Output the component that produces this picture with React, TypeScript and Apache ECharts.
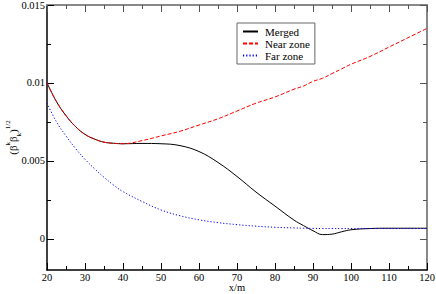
import React, { useEffect, useRef } from "react";
import * as echarts from "echarts";

const xs = [20, 22.5, 25, 27.5, 30, 32.5, 35, 37.5, 40, 45, 50, 55, 60, 65, 70, 75, 80, 85, 87.5, 90, 92.5, 95, 97.5, 100, 105, 110, 115, 120];

const merged = [0.0100, 0.0088, 0.0079, 0.0072, 0.0067, 0.0064, 0.0062, 0.00613, 0.0061, 0.00612, 0.0061, 0.00598, 0.0056, 0.0049, 0.0040, 0.0030, 0.0021, 0.0012, 0.00085, 0.00052, 0.00027, 0.0003, 0.00045, 0.00058, 0.00066, 0.00068, 0.00068, 0.00068];

const nearZone = [0.0100, 0.0088, 0.0079, 0.0072, 0.0067, 0.0064, 0.0062, 0.00613, 0.0061, 0.0063, 0.0066, 0.0069, 0.0073, 0.0077, 0.0082, 0.0087, 0.0091, 0.0096, 0.0098, 0.0101, 0.0103, 0.0106, 0.0109, 0.0112, 0.0117, 0.0123, 0.0129, 0.0135];

const farZone = [0.0087, 0.0075, 0.0066, 0.0058, 0.0051, 0.0045, 0.00395, 0.00345, 0.00303, 0.0024, 0.00185, 0.00148, 0.00122, 0.00104, 0.00091, 0.00081, 0.00074, 0.0007, 0.00068, 0.00067, 0.00066, 0.00066, 0.00066, 0.00066, 0.00066, 0.00066, 0.00066, 0.00066];

const seriesNames = ["Merged", "Near zone", "Far zone"];
const yMajorTicks = [0, 0.005, 0.01, 0.015];
const yMajorLabels = ["0", "0.005", "0.01", "0.015"];
const yMinorTicks = [0.0025, 0.0075, 0.0125];

const FONT = "Liberation Serif";

export default function App() {
  const ref = useRef<HTMLDivElement>(null);
  useEffect(() => {
    if (!ref.current) return;
    const chart = echarts.init(ref.current, null, { renderer: "svg" });
    const pairs = (ys: number[]) => xs.map((x, i) => [x, ys[i]]);
    const yBase = { type: "value", min: -0.002, max: 0.015, splitLine: { show: false } };
    const xBase = {
      type: "value",
      min: 20,
      max: 120,
      interval: 10,
      splitLine: { show: false },
      minorSplitLine: { show: false },
    };
    chart.setOption({
      animation: false,
      backgroundColor: "#ffffff",
      textStyle: { fontFamily: FONT },
      grid: { left: 47, right: 9, top: 5, bottom: 24, outerBoundsMode: "none", containLabel: false },
      legend: {
        data: seriesNames,
        orient: "vertical",
        left: 237,
        top: 23,
        itemWidth: 15,
        itemHeight: 10,
        itemGap: 1,
        padding: [3, 5, 3, 5],
        borderColor: "#666666",
        borderWidth: 1,
        backgroundColor: "#ffffff",
        itemStyle: { opacity: 0 },
        textStyle: { fontFamily: FONT, fontSize: 11, lineHeight: 11, color: "#000", padding: [0, 0, 0, 2] },
      },
      xAxis: [
        {
          ...xBase,
          position: "bottom",
          name: "x/m",
          nameLocation: "middle",
          nameGap: 12,
          nameMoveOverlap: false,
          nameTextStyle: { fontFamily: FONT, fontSize: 10.5, color: "#000" },
          axisLine: { show: true, onZero: false, lineStyle: { color: "#000", width: 1.5 } },
          axisTick: { show: true, inside: true, length: 7, lineStyle: { color: "#000" } },
          minorTick: { show: true, splitNumber: 2, length: 4, lineStyle: { color: "#000" } },
          axisLabel: { fontFamily: FONT, fontSize: 10.5, color: "#000", margin: 2 },
        },
        {
          ...xBase,
          position: "top",
          axisLine: { show: true, onZero: false, lineStyle: { color: "#888", width: 2 } },
          axisTick: { show: true, inside: true, length: 7, lineStyle: { color: "#555" } },
          minorTick: { show: true, splitNumber: 2, length: 4, lineStyle: { color: "#555" } },
          axisLabel: { show: false },
        },
      ],
      yAxis: [
        {
          ...yBase,
          position: "left",
          name: "{m|(β}{sup|k}{m|β}{sub|k}{m|)}{sup|1/2}",
          nameLocation: "middle",
          nameRotate: 90,
          nameGap: 25,
          nameMoveOverlap: false,
          nameTextStyle: {
            fontFamily: FONT,
            color: "#000",
            rich: {
              m: { fontFamily: FONT, fontSize: 11, lineHeight: 18, color: "#000" },
              sup: { fontFamily: FONT, fontSize: 7, lineHeight: 8, verticalAlign: "top", color: "#000" },
              sub: { fontFamily: FONT, fontSize: 7, lineHeight: 8, verticalAlign: "bottom", color: "#000" },
            },
          },
          axisLine: { show: true, onZero: false, lineStyle: { color: "#000", width: 1.5 } },
          axisTick: { show: true, inside: true, length: 7, customValues: yMajorTicks, lineStyle: { color: "#000" } },
          axisLabel: {
            fontFamily: FONT,
            fontSize: 10.5,
            color: "#000",
            margin: 2,
            customValues: yMajorTicks,
            formatter: (v: number) => {
              const i = yMajorTicks.findIndex((t) => Math.abs(t - v) < 1e-9);
              return i >= 0 ? yMajorLabels[i] : "";
            },
          },
        },
        {
          ...yBase,
          position: "left",
          axisLine: { show: false },
          axisTick: { show: true, inside: true, length: 4, customValues: yMinorTicks, lineStyle: { color: "#000" } },
          axisLabel: { show: false },
        },
        {
          ...yBase,
          position: "right",
          axisLine: { show: true, onZero: false, lineStyle: { color: "#888", width: 2 } },
          axisTick: { show: true, inside: true, length: 7, customValues: yMajorTicks, lineStyle: { color: "#555" } },
          axisLabel: { show: false },
        },
        {
          ...yBase,
          position: "right",
          axisLine: { show: false },
          axisTick: { show: true, inside: true, length: 4, customValues: yMinorTicks, lineStyle: { color: "#555" } },
          axisLabel: { show: false },
        },
      ],
      series: [
        {
          name: seriesNames[0],
          type: "line",
          data: pairs(merged),
          smooth: 0.4,
          showSymbol: false,
          symbol: "none",
          lineStyle: { color: "#000000", width: 1 },
          itemStyle: { color: "#000000" },
          z: 3,
        },
        {
          name: seriesNames[1],
          type: "line",
          data: pairs(nearZone),
          smooth: 0.4,
          showSymbol: false,
          symbol: "none",
          lineStyle: { color: "#ff0000", width: 1, type: [4, 2] },
          itemStyle: { color: "#ff0000" },
          z: 4,
        },
        {
          name: seriesNames[2],
          type: "line",
          data: pairs(farZone),
          smooth: 0.4,
          showSymbol: false,
          symbol: "none",
          lineStyle: { color: "#0000ff", width: 1, type: [1.2, 2] },
          itemStyle: { color: "#0000ff" },
          z: 5,
        },
      ],
    });
    return () => chart.dispose();
  }, []);
  return (
    <div
      ref={ref}
      style={{ position: "fixed", left: 0, top: 0, width: 436, height: 294, background: "#fff" }}
    />
  );
}
